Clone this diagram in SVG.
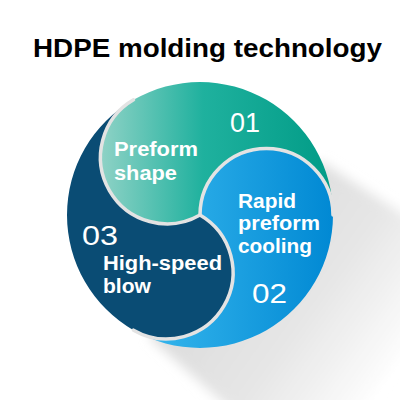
<svg xmlns="http://www.w3.org/2000/svg" width="400" height="400" viewBox="0 0 400 400">
  <defs>
    <linearGradient id="gTeal" gradientUnits="userSpaceOnUse" x1="95" y1="0" x2="335" y2="0">
      <stop offset="0" stop-color="#95d4c8"/>
      <stop offset="0.45" stop-color="#1fb19e"/>
      <stop offset="1" stop-color="#009b86"/>
    </linearGradient>
    <linearGradient id="gBlue" gradientUnits="userSpaceOnUse" x1="140" y1="0" x2="335" y2="0">
      <stop offset="0" stop-color="#38b8ee"/>
      <stop offset="1" stop-color="#0088d3"/>
    </linearGradient>
    <linearGradient id="gShadow" gradientUnits="userSpaceOnUse" x1="230" y1="230" x2="410" y2="360">
      <stop offset="0" stop-color="#dcdcdc"/>
      <stop offset="0.5" stop-color="#e6e6e6"/>
      <stop offset="1" stop-color="#ffffff"/>
    </linearGradient>
    <filter id="blur" x="-30%" y="-30%" width="160%" height="160%">
      <feGaussianBlur stdDeviation="6"/>
    </filter>
    <style>
      .title { font-family: "Liberation Sans", Arial, sans-serif; font-weight: bold; font-size: 25px; fill: #000; }
      .lbl { font-family: "Liberation Sans", Arial, sans-serif; font-weight: bold; font-size: 20px; fill: #fff; }
      .num { font-family: "Liberation Sans", Arial, sans-serif; font-size: 28px; fill: #fff; }
      .div { fill: none; stroke: #e3e3e3; stroke-width: 3.5; stroke-linecap: round; }
    </style>
  </defs>

  <rect width="400" height="400" fill="#fff"/>

  <text class="title" x="33" y="57" textLength="349" lengthAdjust="spacingAndGlyphs">HDPE molding technology</text>

  <g id="shadow" filter="url(#blur)">
    <path d="M322 162 L470 257 L310 480 L150 338 L200 215 Z" fill="url(#gShadow)"/>
  </g>

  <g id="step01">
    <path d="M200 215 A66.5 66.5 0 0 1 133.5 99.82 A133 133 0 0 1 333 215 A66.5 66.5 0 0 0 200 215 Z" fill="url(#gTeal)"/>
    <text class="num" x="230" y="132" textLength="30" lengthAdjust="spacingAndGlyphs">01</text>
    <text class="lbl" x="114" y="156" textLength="84" lengthAdjust="spacingAndGlyphs">Preform</text>
    <text class="lbl" x="114" y="180" textLength="63" lengthAdjust="spacingAndGlyphs">shape</text>
  </g>

  <g id="step02">
    <path d="M200 215 A66.5 66.5 0 0 1 333 215 A133 133 0 0 1 133.5 330.18 A66.5 66.5 0 0 0 200 215 Z" fill="url(#gBlue)"/>
    <text class="lbl" x="238" y="208" textLength="58" lengthAdjust="spacingAndGlyphs">Rapid</text>
    <text class="lbl" x="238" y="230" textLength="82" lengthAdjust="spacingAndGlyphs">preform</text>
    <text class="lbl" x="238" y="253" textLength="74" lengthAdjust="spacingAndGlyphs">cooling</text>
    <text class="num" x="252" y="303" textLength="35" lengthAdjust="spacingAndGlyphs">02</text>
  </g>

  <g id="step03">
    <path d="M200 215 A66.5 66.5 0 0 1 133.5 330.18 A133 133 0 0 1 133.5 99.82 A66.5 66.5 0 0 0 200 215 Z" fill="#0a4c74"/>
    <text class="num" x="82" y="245" textLength="36" lengthAdjust="spacingAndGlyphs">03</text>
    <text class="lbl" x="103" y="270" textLength="119" lengthAdjust="spacingAndGlyphs">High-speed</text>
    <text class="lbl" x="103" y="293" textLength="48" lengthAdjust="spacingAndGlyphs">blow</text>
  </g>

  <g id="dividers">
    <path class="div" d="M200 215 A66.5 66.5 0 0 1 133.5 99.82"/>
    <path class="div" d="M200 215 A66.5 66.5 0 0 1 333 215"/>
    <path class="div" d="M200 215 A66.5 66.5 0 0 1 133.5 330.18"/>
  </g>
</svg>
